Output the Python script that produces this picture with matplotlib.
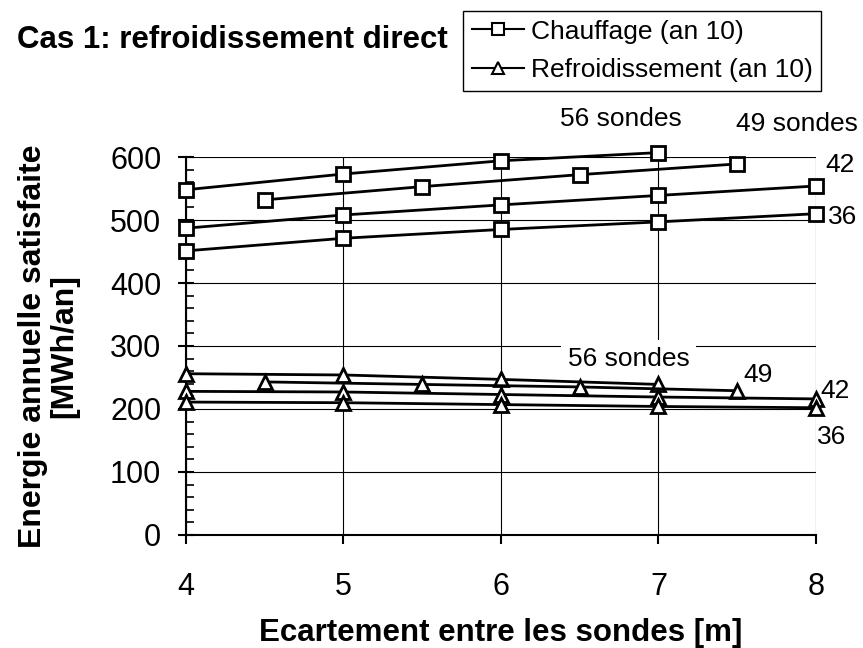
import matplotlib.pyplot as plt
from matplotlib.ticker import MultipleLocator
from matplotlib.lines import Line2D

plt.rcParams['font.family'] = ['Liberation Sans', 'DejaVu Sans']

# Chauffage (an 10), MWh/an, par nombre de sondes
x_56 = [4, 5, 6, 7]
x_49 = [4.5, 5.5, 6.5, 7.5]
x_42 = [4, 5, 6, 7, 8]
x_36 = [4, 5, 6, 7, 8]
chauf_56 = [548, 573, 594, 607]
chauf_49 = [532, 553, 572, 589]
chauf_42 = [487, 508, 524, 539, 554]
chauf_36 = [451, 471, 485, 497, 510]

# Refroidissement (an 10)
refr_56 = [256, 254, 247, 239]
refr_49 = [243, 239, 235, 229]
refr_42 = [228, 227, 223, 219, 216]
refr_36 = [211, 210, 207, 204, 202]

fig = plt.figure(figsize=(8.63, 6.48), dpi=100)
ax = fig.add_axes([0.2155, 0.1744, 0.73, 0.5833])

style = dict(color='black', lw=2, mfc='white', mec='black', mew=2,
             ms=10, clip_on=False, zorder=3)
for xs, ys in [(x_56, chauf_56), (x_49, chauf_49), (x_42, chauf_42),
               (x_36, chauf_36)]:
    ax.plot(xs, ys, marker='s', **style)
for xs, ys in [(x_56, refr_56), (x_49, refr_49), (x_42, refr_42),
               (x_36, refr_36)]:
    ax.plot(xs, ys, marker='^', **style)

ax.set_xlim(4, 8)
ax.set_ylim(0, 600)
ax.xaxis.set_major_locator(MultipleLocator(1))
ax.yaxis.set_major_locator(MultipleLocator(100))
ax.yaxis.set_minor_locator(MultipleLocator(20))
ax.grid(True, which='major', color='black', lw=0.8)
ax.set_axisbelow(True)
for s in ['top', 'right']:
    ax.spines[s].set_visible(False)
for s in ['left', 'bottom']:
    ax.spines[s].set_linewidth(1.5)
ax.tick_params(axis='y', which='major', direction='inout', length=11.5,
               width=1.5, labelsize=22, pad=12)
ax.tick_params(axis='y', which='minor', direction='in', length=6, width=1.2)
ax.tick_params(axis='x', which='major', direction='out', length=6.5,
               width=1.5, labelsize=22, pad=20)

ax.set_xlabel('Ecartement entre les sondes [m]', fontsize=22.5,
              fontweight='bold', va='top')
ax.xaxis.set_label_coords(0.5, -0.219)
ax.set_ylabel('Energie annuelle satisfaite\n[MWh/an]', fontsize=23,
              fontweight='bold', linespacing=1.05, va='bottom')
ax.yaxis.set_label_coords(-0.17, 0.5)

lab = dict(fontsize=19, ha='center', va='center', clip_on=False)
ax.text(6.76, 660, '56 sondes', **lab)
ax.text(7.88, 652, '49 sondes', **lab)
ax.text(8.15, 587, '42', **lab)
ax.text(8.17, 505, '36', **lab)
ax.text(6.81, 280, '56 sondes', zorder=2,
        bbox=dict(facecolor='white', edgecolor='none', pad=5), **lab)
ax.text(7.63, 254, '49', **lab)
ax.text(8.12, 229, '42', **lab)
ax.text(8.1, 156, '36', **lab)

fig.text(0.02, 0.939, 'Cas 1: refroidissement direct', fontsize=22.5,
         fontweight='bold', ha='left', va='center')

handles = [Line2D([], [], color='black', lw=1.5, marker='s', mfc='white',
                  mec='black', mew=1.5, ms=9),
           Line2D([], [], color='black', lw=1.5, marker='^', mfc='white',
                  mec='black', mew=1.5, ms=9)]
leg = fig.legend(handles, ['Chauffage (an 10)', 'Refroidissement (an 10)'],
                 loc='upper left', bbox_to_anchor=(0.5365, 0.983),
                 fontsize=19, frameon=True, fancybox=False,
                 edgecolor='black', framealpha=1, handlelength=2.0,
                 handletextpad=0.23, borderpad=0.33, labelspacing=0.55,
                 borderaxespad=0)
leg.get_frame().set_linewidth(1.0)

fig.savefig('out.png', dpi=100)
